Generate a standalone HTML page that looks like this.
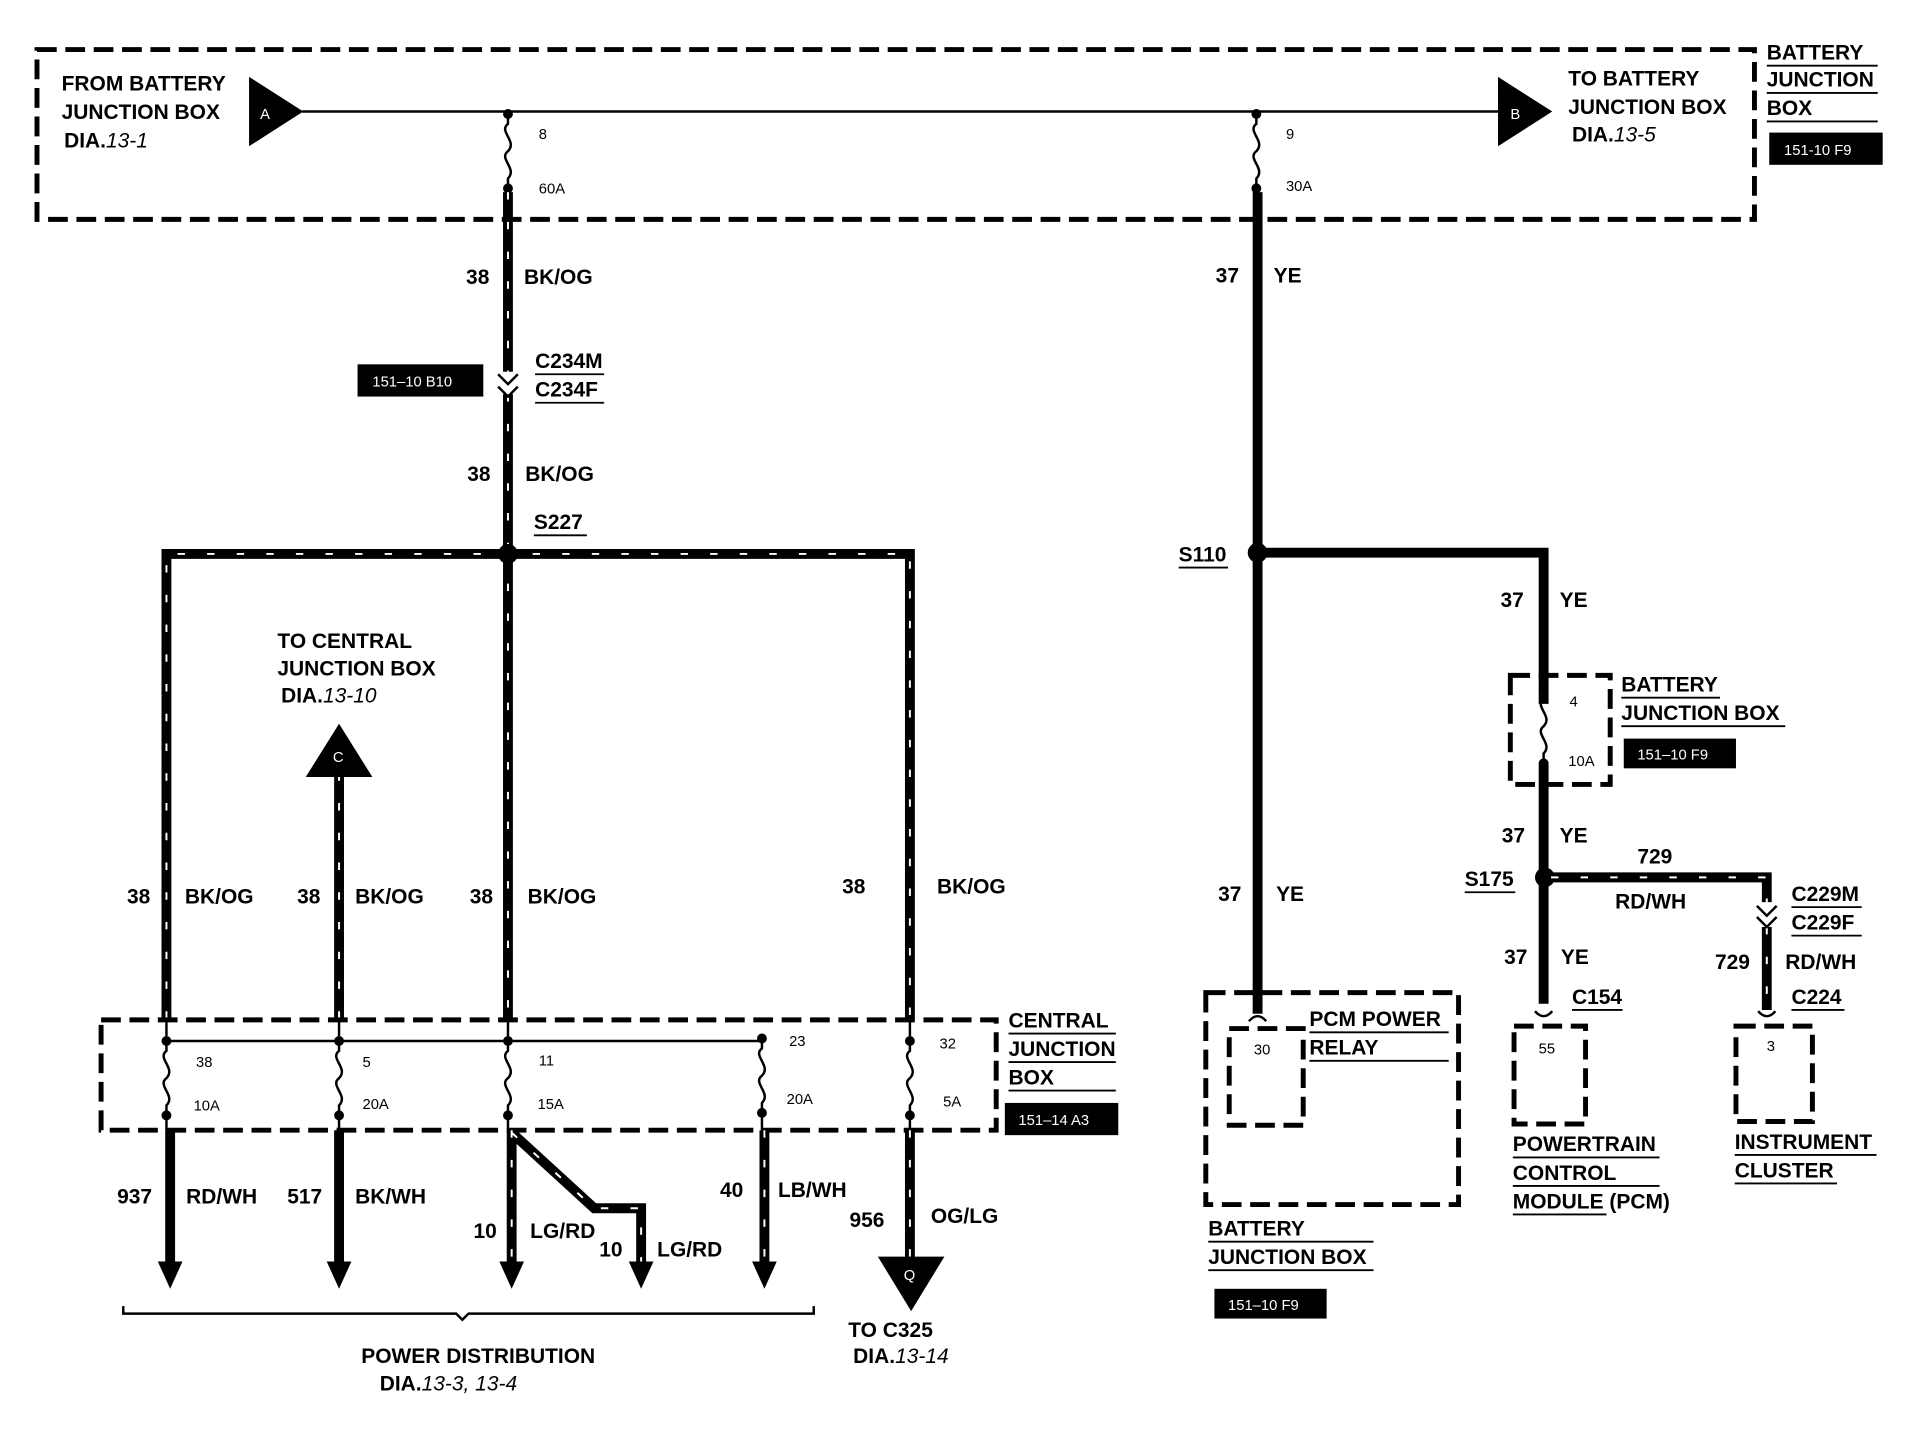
<!DOCTYPE html>
<html><head><style>
html,body{margin:0;padding:0;background:#fff}
svg{display:block}
text{font-family:"Liberation Sans",Arial,sans-serif;font-weight:bold;font-size:17px;fill:#000}
.s{font-size:12px;font-weight:normal}
.w{fill:#fff;font-size:12px;font-weight:normal}
.d{fill:none;stroke:#000;stroke-width:4;stroke-dasharray:16 7}
.wire{fill:none;stroke:#000;stroke-width:8}
.str{fill:none;stroke:#fff;stroke-width:1.6;stroke-dasharray:6 18}
.thin{fill:none;stroke:#000;stroke-width:2}
.ul{stroke:#000;stroke-width:1.5}
</style></head><body>
<svg width="1932" height="1440" viewBox="0 0 1567 1162" preserveAspectRatio="none" xmlns="http://www.w3.org/2000/svg">
<defs>
<g id="fuse"><circle cx="0" cy="0" r="4"/><path d="M0,0 v8 c-8,6 8,14 0,22 c-8,6 8,14 0,22 v8" class="thin"/><circle cx="0" cy="60" r="4"/></g>
</defs>
<rect x="30" y="40" width="1393" height="137" class="d"/>
<text x="50" y="73">FROM BATTERY</text><text x="50" y="96">JUNCTION BOX</text><text x="52" y="119">DIA.<tspan font-style="italic" font-weight="normal">13-1</tspan></text>
<polygon points="202,62 202,118 246,90"/><text x="211" y="96" class="w">A</text>
<line x1="245" y1="90" x2="1215" y2="90" class="thin"/>
<polygon points="1215,62 1215,118 1259,90"/><text x="1225" y="96" class="w">B</text>
<text x="1272" y="69">TO BATTERY</text><text x="1272" y="92">JUNCTION BOX</text><text x="1275" y="114">DIA.<tspan font-style="italic" font-weight="normal">13-5</tspan></text>
<text x="1433" y="48">BATTERY</text><line x1="1433" y1="53" x2="1523" y2="53" class="ul"/>
<text x="1433" y="70">JUNCTION</text><line x1="1433" y1="75" x2="1523" y2="75" class="ul"/>
<text x="1433" y="93">BOX</text><line x1="1433" y1="98" x2="1523" y2="98" class="ul"/>
<rect x="1435" y="107" width="92" height="26"/><text x="1447" y="125" class="w">151-10 F9</text>
<use href="#fuse" x="412" y="92"/><text x="437" y="112" class="s">8</text><text x="437" y="156" class="s">60A</text>
<use href="#fuse" x="1019" y="92"/><text x="1043" y="112" class="s">9</text><text x="1043" y="154" class="s">30A</text>
<path d="M412,155 V300 M412,318 V447" class="wire"/><path d="M412,155 V300 M412,318 V447" class="str"/>
<path d="M404,302 l8,8 l8,-8 M404,312 l8,8 l8,-8" class="thin" stroke-width="3"/>
<text x="378" y="229">38</text><text x="425" y="229">BK/OG</text>
<rect x="290" y="294" width="102" height="26"/><text x="302" y="312" class="w">151–10 B10</text>
<text x="434" y="297">C234M</text><line x1="434" y1="302" x2="490" y2="302" class="ul"/>
<text x="434" y="320">C234F</text><line x1="434" y1="325" x2="490" y2="325" class="ul"/>
<text x="379" y="388">38</text><text x="426" y="388">BK/OG</text>
<text x="433" y="427">S227</text><line x1="433" y1="432" x2="476" y2="432" class="ul"/>
<path d="M135,822 V447 H738 V822 M412,447 V822" class="wire"/>
<path d="M135,822 V447 H738 V822 M412,447 V822" class="str"/>
<circle cx="412" cy="447" r="8"/>
<path d="M275,822 V625" class="wire"/><path d="M275,822 V625" class="str"/>
<polygon points="248,627 302,627 275,584"/><text x="270" y="615" class="w">C</text>
<text x="225" y="523">TO CENTRAL</text><text x="225" y="545">JUNCTION BOX</text><text x="228" y="567">DIA.<tspan font-style="italic" font-weight="normal">13-10</tspan></text>
<text x="103" y="729">38</text><text x="150" y="729">BK/OG</text>
<text x="241" y="729">38</text><text x="288" y="729">BK/OG</text>
<text x="381" y="729">38</text><text x="428" y="729">BK/OG</text>
<text x="683" y="721">38</text><text x="760" y="721">BK/OG</text>
<rect x="82" y="823" width="726" height="89" class="d"/>
<line x1="135" y1="840" x2="618" y2="840" class="thin"/>
<line x1="135" y1="822" x2="135" y2="836" class="thin"/><line x1="275" y1="822" x2="275" y2="836" class="thin"/><line x1="412" y1="822" x2="412" y2="836" class="thin"/><line x1="738" y1="822" x2="738" y2="836" class="thin"/>
<use href="#fuse" x="135" y="840"/>
<use href="#fuse" x="275" y="840"/><use href="#fuse" x="412" y="840"/><use href="#fuse" x="618" y="838"/><use href="#fuse" x="738" y="840"/>
<line x1="135" y1="898" x2="135" y2="912" class="thin"/><line x1="275" y1="898" x2="275" y2="912" class="thin"/><line x1="412" y1="898" x2="412" y2="912" class="thin"/><line x1="618" y1="896" x2="618" y2="912" class="thin"/><line x1="738" y1="898" x2="738" y2="912" class="thin"/>
<text x="159" y="861" class="s">38</text><text x="157" y="896" class="s">10A</text>
<text x="294" y="861" class="s">5</text><text x="294" y="895" class="s">20A</text>
<text x="437" y="860" class="s">11</text><text x="436" y="895" class="s">15A</text>
<text x="640" y="844" class="s">23</text><text x="638" y="891" class="s">20A</text>
<text x="762" y="846" class="s">32</text><text x="765" y="893" class="s">5A</text>
<text x="818" y="829">CENTRAL</text><line x1="818" y1="834" x2="905" y2="834" class="ul"/>
<text x="818" y="852">JUNCTION</text><line x1="818" y1="857" x2="905" y2="857" class="ul"/>
<text x="818" y="875">BOX</text><line x1="818" y1="880" x2="905" y2="880" class="ul"/>
<rect x="815" y="890" width="92" height="26"/><text x="826" y="908" class="w">151–14 A3</text>
<path d="M138,912 V1022 M275,912 V1022 M415,912 V1022 M415,914 L482,975 H520 V1022 M620,912 V1022 M738,912 V1016" class="wire"/>
<path d="M415,912 V1022 M415,914 L482,975 H520 V1022 M620,912 V1022 M738,912 V1016" class="str"/>
<polygon points="128,1018 148,1018 138,1040"/><polygon points="265,1018 285,1018 275,1040"/><polygon points="405,1018 425,1018 415,1040"/><polygon points="510,1018 530,1018 520,1040"/><polygon points="610,1018 630,1018 620,1040"/>
<polygon points="712,1014 766,1014 739,1058"/><text x="733" y="1033" class="w">Q</text>
<text x="95" y="971">937</text><text x="151" y="971">RD/WH</text>
<text x="233" y="971">517</text><text x="288" y="971">BK/WH</text>
<text x="384" y="999">10</text><text x="430" y="999">LG/RD</text>
<text x="486" y="1014">10</text><text x="533" y="1014">LG/RD</text>
<text x="584" y="966">40</text><text x="631" y="966">LB/WH</text>
<text x="689" y="990">956</text><text x="755" y="987">OG/LG</text>
<text x="688" y="1079">TO C325</text><text x="692" y="1100">DIA.<tspan font-style="italic" font-weight="normal">13-14</tspan></text>
<path d="M100,1054 v6 h270 l5,5 l5,-5 h280 v-6" class="thin" stroke-width="2.5"/>
<text x="293" y="1100">POWER DISTRIBUTION</text><text x="308" y="1122">DIA.<tspan font-style="italic" font-weight="normal">13-3, 13-4</tspan></text>
<path d="M1020,155 V818" class="wire"/>
<path d="M1020,446 H1252 V568" class="wire"/>
<circle cx="1020" cy="446" r="8"/>
<text x="986" y="228">37</text><text x="1033" y="228">YE</text>
<text x="956" y="453">S110</text><line x1="956" y1="458" x2="996" y2="458" class="ul"/>
<text x="1217" y="490">37</text><text x="1265" y="490">YE</text>
<rect x="1225" y="545" width="81" height="88" class="d"/>
<use href="#fuse" x="1252" y="556"/><text x="1273" y="570" class="s">4</text><text x="1272" y="618" class="s">10A</text>
<text x="1315" y="558">BATTERY</text><line x1="1315" y1="563" x2="1395" y2="563" class="ul"/>
<text x="1315" y="581">JUNCTION BOX</text><line x1="1315" y1="586" x2="1448" y2="586" class="ul"/>
<rect x="1317" y="596" width="91" height="24"/><text x="1328" y="613" class="w">151–10 F9</text>
<path d="M1252,616 V810" class="wire"/>
<circle cx="1253" cy="708" r="8"/>
<text x="1218" y="680">37</text><text x="1265" y="680">YE</text>
<text x="1188" y="715">S175</text><line x1="1188" y1="720" x2="1229" y2="720" class="ul"/>
<path d="M1258,708 H1433 V728 M1433,748 V815" class="wire"/><path d="M1258,708 H1433 V728 M1433,748 V815" class="str"/>
<path d="M1425,731 l8,8 l8,-8 M1425,740 l8,8 l8,-8" class="thin" stroke-width="3"/>
<text x="1328" y="697">729</text><text x="1310" y="733">RD/WH</text>
<text x="1453" y="727">C229M</text><line x1="1453" y1="732" x2="1510" y2="732" class="ul"/>
<text x="1453" y="750">C229F</text><line x1="1453" y1="755" x2="1510" y2="755" class="ul"/>
<text x="1391" y="782">729</text><text x="1448" y="782">RD/WH</text>
<text x="1453" y="810">C224</text><line x1="1453" y1="815" x2="1496" y2="815" class="ul"/>
<path d="M1426,816 q7,8 14,0" class="thin" stroke-width="3"/>
<rect x="1408" y="828" width="62" height="77" class="d"/><text x="1433" y="848" class="s">3</text>
<text x="1407" y="927">INSTRUMENT</text><line x1="1407" y1="932" x2="1522" y2="932" class="ul"/>
<text x="1407" y="950">CLUSTER</text><line x1="1407" y1="955" x2="1490" y2="955" class="ul"/>
<text x="1220" y="778">37</text><text x="1266" y="778">YE</text>
<text x="1275" y="810">C154</text><line x1="1275" y1="815" x2="1316" y2="815" class="ul"/>
<path d="M1245,816 q7,8 14,0" class="thin" stroke-width="3"/>
<rect x="1228" y="828" width="58" height="79" class="d"/><text x="1248" y="850" class="s">55</text>
<text x="1227" y="929">POWERTRAIN</text><line x1="1227" y1="934" x2="1346" y2="934" class="ul"/>
<text x="1227" y="952">CONTROL</text><line x1="1227" y1="957" x2="1346" y2="957" class="ul"/>
<text x="1227" y="975">MODULE (PCM)</text><line x1="1227" y1="980" x2="1303" y2="980" class="ul"/>
<text x="988" y="727">37</text><text x="1035" y="727">YE</text>
<path d="M1013,824 q7,-8 14,0" class="thin" stroke-width="3"/>
<rect x="978" y="801" width="205" height="171" class="d"/>
<rect x="997" y="830" width="60" height="78" class="d"/><text x="1017" y="851" class="s">30</text>
<text x="1062" y="828">PCM POWER</text><line x1="1062" y1="833" x2="1175" y2="833" class="ul"/>
<text x="1062" y="851">RELAY</text><line x1="1062" y1="856" x2="1175" y2="856" class="ul"/>
<text x="980" y="997">BATTERY</text><line x1="980" y1="1002" x2="1114" y2="1002" class="ul"/>
<text x="980" y="1020">JUNCTION BOX</text><line x1="980" y1="1025" x2="1114" y2="1025" class="ul"/>
<rect x="985" y="1040" width="91" height="24"/><text x="996" y="1057" class="w">151–10 F9</text>
</svg>
</body></html>
